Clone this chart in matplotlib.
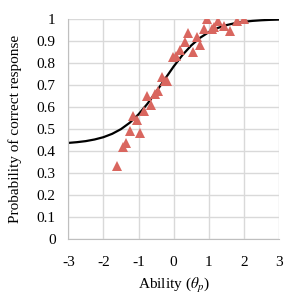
import matplotlib.pyplot as plt
import numpy as np

plt.rcParams['font.family'] = 'Liberation Serif'
plt.rcParams['mathtext.fontset'] = 'stix'
plt.rcParams['axes.unicode_minus'] = False

ability = [-1.62, -1.45, -1.36, -1.24, -0.96, -1.15, -1.03, -0.84, -0.64, -0.75,
           -0.53, -0.44, -0.34, -0.18, -0.26, -0.03, 0.07, 0.18, 0.32, 0.42,
           0.56, 0.66, 0.75, 0.85, 0.94, 1.09, 1.27, 1.42, 1.59, 1.80, 2.01, 1.15]
prop_correct = [0.333, 0.42, 0.435, 0.49, 0.483, 0.56, 0.54, 0.58, 0.61, 0.65,
                0.66, 0.674, 0.738, 0.72, 0.72, 0.826, 0.83, 0.86, 0.894, 0.935,
                0.851, 0.92, 0.88, 0.953, 1.0, 0.953, 0.99, 0.97, 0.945, 0.99, 1.0, 0.965]

# fitted item characteristic curve
curve_x = [-3, -2.75, -2.5, -2.25, -2, -1.75, -1.5, -1.25, -1, -0.75, -0.5, -0.25,
           0, 0.25, 0.5, 0.75, 1, 1.25, 1.5, 1.75, 2, 2.25, 2.5, 2.75, 3]
curve_y = [0.4365, 0.4399, 0.4447, 0.4521, 0.4625, 0.4778, 0.4991, 0.5283, 0.5665,
           0.6138, 0.6684, 0.7267, 0.7841, 0.8361, 0.8798, 0.9144, 0.9403, 0.9590,
           0.9722, 0.9813, 0.9875, 0.9916, 0.9944, 0.9963, 0.9975]

yticks = [0, 0.1, 0.2, 0.3, 0.4, 0.5, 0.6, 0.7, 0.8, 0.9, 1]
ytick_labels = ["0", "0.1", "0.2", "0.3", "0.4", "0.5", "0.6", "0.7", "0.8", "0.9", "1"]
xticks = [-3, -2, -1, 0, 1, 2, 3]

fig = plt.figure(figsize=(3.02, 3.02), dpi=100)
ax = fig.add_axes([0.226, 0.209, 0.698, 0.728])

ax.plot(curve_x, curve_y, color="black", linewidth=1.6, zorder=2)
ax.plot(ability, prop_correct, linestyle="none", marker="^", markersize=6.5,
        color="#d9665f", markeredgewidth=0, zorder=3)

ax.set_xlim(-3, 3)
ax.set_ylim(0, 1)
ax.set_xticks(xticks)
ax.set_yticks(yticks)
ax.set_yticklabels(ytick_labels)
ax.tick_params(length=0, labelsize=11)
ax.tick_params(axis="x", pad=12)
ax.tick_params(axis="y", pad=9)
ax.grid(True, color="#d9d9d9", linewidth=1)
ax.set_axisbelow(True)
for side in ["top", "right"]:
    ax.spines[side].set_visible(False)
for side in ["left", "bottom"]:
    ax.spines[side].set_color("#bfbfbf")

fig.text(0.5 * (0.226 + 0.924), 0.056, r"Ability ($\theta_p$)", fontsize=11,
         ha="center", va="center")
fig.text(0.05, 0.573, "Probability of correct response", fontsize=11,
         ha="center", va="center", rotation=90)

plt.savefig("out.png", dpi=100)
